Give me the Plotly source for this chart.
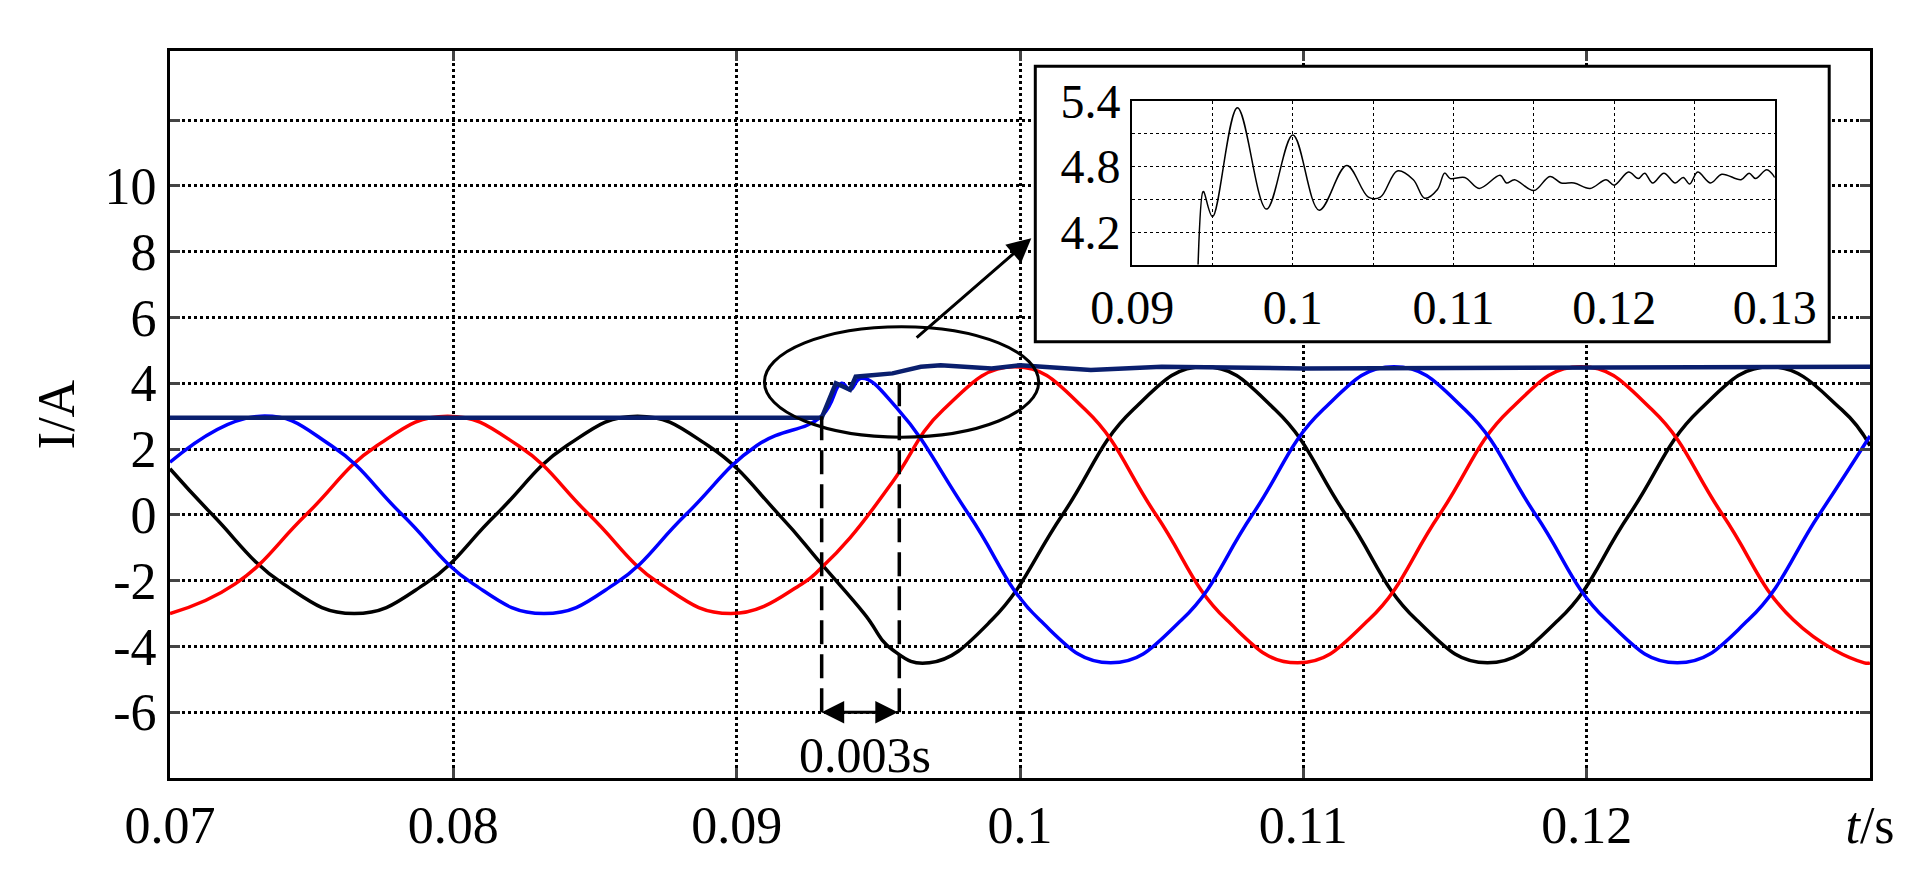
import plotly.graph_objects as go

# Main waveforms
t_black = [0.07,0.0715,0.074,0.0765,0.079,0.0815,0.084,0.0865,0.089,0.0915,0.093,0.0945,0.0955,0.0968,0.099,0.1015,0.104,0.1065,0.109,0.1115,0.114,0.1165,0.119,0.1215,0.124,0.1265,0.129,0.13]
i_black = [1.4,0,-2.1,-3,-2.1,0,2.1,3,2.1,0,-1.5,-3.0,-4.1,-4.5,-3.2,0,3.2,4.5,3.2,0,-3.2,-4.5,-3.2,0,3.2,4.5,3.2,2.1]
t_blue = [0.07,0.0732,0.0757,0.0782,0.0807,0.0832,0.0857,0.0882,0.0907,0.093,0.0937,0.094,0.0944,0.0957,0.0982,0.1007,0.1032,0.1057,0.1082,0.1107,0.1132,0.1157,0.1182,0.1207,0.1232,0.1257,0.1282,0.13]
i_blue = [1.6,3,2.1,0,-2.1,-3,-2.1,0,2.1,3.0,4.0,3.8,4.15,3.2,0,-3.2,-4.5,-3.2,0,3.2,4.5,3.2,0,-3.2,-4.5,-3.2,0,2.4]
t_red = [0.07,0.0723,0.0748,0.0773,0.0798,0.0823,0.0848,0.0873,0.0898,0.0923,0.093,0.094,0.0955,0.0973,0.0998,0.1023,0.1048,0.1073,0.1098,0.1123,0.1148,0.1173,0.1198,0.1223,0.1248,0.1273,0.1298,0.13]
i_red = [-3,-2.1,0,2.1,3,2.1,0,-2.1,-3,-2.1,-1.6,-0.7,1.0,3.2,4.5,3.2,0,-3.2,-4.5,-3.2,0,3.2,4.5,3.2,0,-3.2,-4.5,-4.5]
t_amp = [0.07,0.093,0.0935,0.094,0.0942,0.095,0.0955,0.0965,0.0972,0.099,0.1,0.1025,0.105,0.11,0.12,0.13]
i_amp = [2.95,2.95,4.0,3.8,4.2,4.25,4.3,4.5,4.55,4.45,4.55,4.4,4.5,4.45,4.48,4.5]

# Inset curve
t_in = [0.0941,0.0944,0.09445,0.095,0.09655,0.09836,0.1,0.10164,0.10335,0.1047,0.10545,0.1065,0.1075,0.1082,0.109,0.10945,0.1098,0.1107,0.1116,0.1129,0.1133,0.1138,0.115,0.116,0.1167,0.1175,0.1185,0.1195,0.12,0.1209,0.1215,0.1219,0.1224,0.1231,0.1238,0.1243,0.1247,0.1252,0.126,0.1267,0.1279,0.1284,0.1288,0.1295,0.13]
i_in = [3.9,4.57,4.57,4.34,5.34,4.41,5.09,4.40,4.81,4.52,4.52,4.76,4.68,4.51,4.59,4.74,4.69,4.70,4.60,4.72,4.65,4.68,4.58,4.71,4.65,4.65,4.60,4.68,4.63,4.75,4.69,4.74,4.65,4.74,4.65,4.70,4.64,4.75,4.65,4.73,4.68,4.74,4.69,4.77,4.70]

x_ticks = [0.07,0.08,0.09,0.1,0.11,0.12,0.13]
x_labels = ["0.07","0.08","0.09","0.1","0.11","0.12","<i>t</i>/s"]
y_ticks = [-6,-4,-2,0,2,4,6,8,10,12]
y_labels = ["-6","-4","-2","0","2","4","6","8","10",""]

F = "Liberation Serif, Times New Roman, serif"
def fnt(s):
    return dict(family=F, size=s, color="black")

fig = go.Figure()
fig.add_trace(go.Scatter(x=t_black, y=i_black, mode="lines", line=dict(color="black", width=3.5, shape="spline", smoothing=1.3)))
fig.add_trace(go.Scatter(x=t_red, y=i_red, mode="lines", line=dict(color="#ff0000", width=3.5, shape="spline", smoothing=1.3)))
fig.add_trace(go.Scatter(x=t_blue, y=i_blue, mode="lines", line=dict(color="#0000ff", width=3.5, shape="spline", smoothing=1.3)))
fig.add_trace(go.Scatter(x=t_amp, y=i_amp, mode="lines", line=dict(color="#0a1f6e", width=4.5)))
fig.add_trace(go.Scatter(x=[None], y=[None], xaxis="x2", yaxis="y2"))
fig.add_trace(go.Scatter(x=t_in, y=i_in, mode="lines", line=dict(color="black", width=1.5, shape="spline"), xaxis="x3", yaxis="y3"))

grid = dict(showgrid=True, gridcolor="black", griddash="dot", gridwidth=2.5)
fig.update_layout(
    width=1916, height=873, showlegend=False, plot_bgcolor="white", paper_bgcolor="white",
    margin=dict(l=162, r=33, t=43, b=103),
    font=fnt(50),
    xaxis=dict(range=[0.07,0.13], tickvals=x_ticks, ticktext=x_labels, ticks="inside", ticklen=10, tickwidth=3,
               mirror="ticks", showline=True, linecolor="black", linewidth=3, tickfont=fnt(52), zeroline=False, **grid),
    yaxis=dict(range=[-8,14.1], tickvals=y_ticks, ticktext=y_labels, ticks="inside", ticklen=10, tickwidth=3,
               mirror="ticks", showline=True, linecolor="black", linewidth=3, tickfont=fnt(52), zeroline=False,
               title=dict(text="I/A", font=fnt(52), standoff=14), **grid),
    xaxis2=dict(domain=[0.509,0.976], anchor="y2", visible=False, range=[0,1]),
    yaxis2=dict(domain=[0.600,0.979], anchor="x2", visible=False, range=[0,1]),
    xaxis3=dict(domain=[0.566,0.944], anchor="y3", range=[0.09,0.13], tickvals=[0.09+0.005*k for k in range(9)],
                ticktext=[("%g" % (0.09+0.005*k)) if k % 2 == 0 else "" for k in range(9)],
                ticks="", showline=True, mirror=True, linecolor="black", linewidth=2, tickfont=fnt(48),
                showgrid=True, gridcolor="black", griddash="dot", gridwidth=1.2, zeroline=False),
    yaxis3=dict(domain=[0.706,0.931], anchor="x3", range=[3.9,5.4], tickvals=[3.9,4.2,4.5,4.8,5.1,5.4],
                ticktext=["","4.2","","4.8","","5.4"], ticks="", showline=True, mirror=True, linecolor="black", linewidth=2,
                tickfont=fnt(48), showgrid=True, gridcolor="black", griddash="dot", gridwidth=1.2, zeroline=False),
)
fig.add_shape(type="rect", xref="paper", yref="paper", x0=0.509, x1=0.976, y0=0.600, y1=0.979, line=dict(color="black", width=3))
fig.add_shape(type="circle", xref="x", yref="y", x0=0.09582-0.00484, x1=0.09582+0.00484, y0=4.04-1.68, y1=4.04+1.68, line=dict(color="black", width=3))
fig.add_shape(type="line", xref="x", yref="y", x0=0.0930, x1=0.0930, y0=-6, y1=3.1, line=dict(color="black", width=3.5, dash="24px,10px"))
fig.add_shape(type="line", xref="x", yref="y", x0=0.09574, x1=0.09574, y0=-6, y1=4.0, line=dict(color="black", width=3.5, dash="24px,10px"))
fig.add_annotation(x=0.1004, y=8.41, ax=0.0963, ay=5.35, xref="x", yref="y", axref="x", ayref="y", text="",
                   showarrow=True, arrowhead=2, arrowsize=1.6, arrowwidth=3, arrowcolor="black")
fig.add_annotation(x=0.0930, y=-6, ax=0.09574, ay=-6, xref="x", yref="y", axref="x", ayref="y", text="",
                   showarrow=True, arrowhead=2, startarrowhead=2, arrowside="end+start", arrowsize=1.5, startarrowsize=1.5, arrowwidth=3, arrowcolor="black")
fig.add_annotation(x=0.09454, y=-7.3, xref="x", yref="y", text="0.003s", showarrow=False, font=fnt(50))
fig.write_html("out.html")
